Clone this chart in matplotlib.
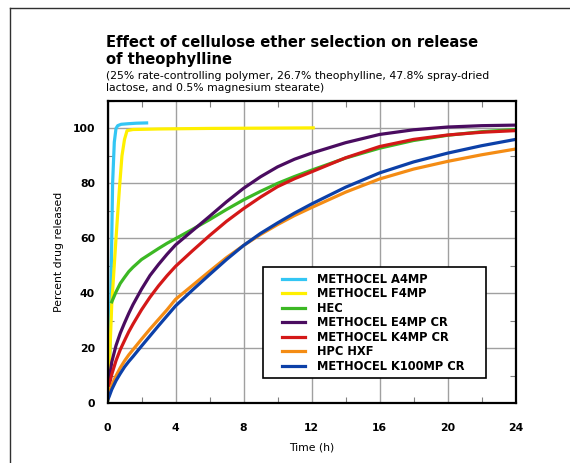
import matplotlib
matplotlib.use("Agg")
import matplotlib.pyplot as plt
from matplotlib.lines import Line2D
from matplotlib.patches import Rectangle
from matplotlib.ticker import MultipleLocator

plt.rcParams['font.family'] = ['DejaVu Sans']

# release profiles (time in h, percent released)
t_a4mp = [0, 0.15, 0.2, 0.3, 0.4, 0.5, 0.6, 0.8, 1.2, 1.7, 2.3]
v_a4mp = [0, 20, 40, 80, 95, 100, 101, 101.5, 101.7, 101.9, 102]

t_f4mp = [0, 0.1, 0.25, 0.5, 0.7, 0.85, 1.0, 1.15, 1.5, 3, 6, 9, 12.1]
v_f4mp = [0, 12, 36, 60, 78, 90, 96, 99.2, 99.6, 99.8, 100, 100.1, 100.2]

t_hec = [0.25, 0.5, 0.75, 1, 1.25, 1.5, 2, 2.5, 3, 3.5, 4, 5, 6, 7, 8, 9, 10,
         11, 12, 14, 16, 18, 20, 22, 24]
v_hec = [36.9, 40.5, 43.6, 45.8, 47.9, 49.5, 52.3, 54.3, 56.3, 58.2, 59.9, 63.3, 66.8,
         70.5, 74, 77.1, 80, 82.5, 84.8, 89.2, 92.8, 95.6, 97.5, 98.8, 99.6]

t_e4mp = [0.1, 0.25, 0.5, 0.75, 1, 1.25, 1.5, 2, 2.5, 3, 3.5, 4, 5, 6, 7, 8, 9, 10,
          11, 12, 14, 16, 18, 20, 22, 24]
v_e4mp = [8.5, 15, 21, 25.5, 29.2, 32.7, 35.9, 41.5, 46.5, 50.5, 54.2, 57.6, 62.8, 68,
          73.3, 78.2, 82.4, 86, 88.8, 91, 94.8, 97.8, 99.5, 100.5, 101, 101.2]

t_k4mp = [0.1, 0.25, 0.5, 0.75, 1, 1.25, 1.5, 2, 2.5, 3, 3.5, 4, 5, 6, 7, 8, 9, 10,
          11, 12, 14, 16, 18, 20, 22, 24]
v_k4mp = [6.5, 10.5, 15.5, 19.5, 22.8, 26, 28.8, 34, 38.6, 42.7, 46.4, 49.8, 55.5, 61,
          66.2, 70.8, 75, 78.8, 81.7, 84.2, 89.3, 93.4, 96, 97.6, 98.6, 99.2]

t_hpc = [0, 0.1, 0.25, 0.5, 0.75, 1, 1.25, 1.5, 2, 2.5, 3, 3.5, 4, 5, 6, 7, 8, 9, 10,
         11, 12, 14, 16, 18, 20, 22, 24]
v_hpc = [1, 3.5, 6.5, 10, 12.9, 15.4, 17.6, 19.5, 23.3, 27, 30.5, 34, 37.8, 42.9, 48,
         53, 57.4, 61.4, 65, 68.3, 71.2, 76.8, 81.6, 85.2, 88, 90.4, 92.5]

t_k100 = [0, 0.1, 0.25, 0.5, 0.75, 1, 1.25, 1.5, 2, 2.5, 3, 3.5, 4, 5, 6, 7, 8, 9, 10,
          11, 12, 14, 16, 18, 20, 22, 24]
v_k100 = [1, 2.5, 5, 8.2, 10.8, 13.2, 15.2, 17, 20.8, 24.5, 28.2, 31.8, 35.4, 41.2, 46.8,
          52.3, 57.4, 61.8, 65.6, 69.2, 72.5, 78.6, 83.8, 87.8, 91, 93.7, 96]

labels = ['METHOCEL A4MP', 'METHOCEL F4MP', 'HEC', 'METHOCEL E4MP CR',
          'METHOCEL K4MP CR', 'HPC HXF', 'METHOCEL K100MP CR']
colors = ['#33c6f4', '#fff000', '#3cb824', '#4a0c60', '#d41818', '#f48c14', '#0c40a8']
series = [(t_a4mp, v_a4mp), (t_f4mp, v_f4mp), (t_hec, v_hec), (t_e4mp, v_e4mp),
          (t_k4mp, v_k4mp), (t_hpc, v_hpc), (t_k100, v_k100)]

fig = plt.figure(figsize=(5.70, 4.63), dpi=100)
ax = fig.add_axes([0.1886, 0.129, 0.7158, 0.653])

for (t, v), c, lab in zip(series, colors, labels):
    ax.plot(t, v, color=c, lw=2.3, label=lab, solid_joinstyle='round')

ax.set_xlim(0, 24)
ax.set_ylim(0, 110)
ax.xaxis.set_major_locator(MultipleLocator(4))
ax.xaxis.set_minor_locator(MultipleLocator(2))
ax.yaxis.set_major_locator(MultipleLocator(20))
ax.yaxis.set_minor_locator(MultipleLocator(10))
ax.grid(True, which='major', color='#a0a0a0', lw=1.0)
ax.set_axisbelow(True)
ax.tick_params(which='both', direction='in', top=True, right=True, labelsize=7.8)
ax.tick_params(which='major', length=0)
ax.tick_params(which='minor', length=4, width=0.8, color='#808080')
ax.tick_params(axis='x', pad=14)
ax.tick_params(axis='y', pad=9)
for lb in ax.get_xticklabels() + ax.get_yticklabels():
    lb.set_fontweight('bold')
for sp in ax.spines.values():
    sp.set_linewidth(1.6)

ax.set_xlabel('Time (h)', fontsize=7.8, labelpad=7)
ax.set_ylabel('Percent drug released', fontsize=7.8, labelpad=6)

# legend box drawn separately so the padding matches the original
box = Rectangle((0.381, 0.0836), 0.547, 0.367, transform=ax.transAxes,
                facecolor='white', edgecolor='black', lw=1.2, zorder=4)
ax.add_patch(box)
leg = ax.legend(loc='upper left', bbox_to_anchor=(0.4277, 0.432), frameon=False,
                fontsize=8.3, handlelength=2.0, handletextpad=1.0,
                labelspacing=0.13, borderpad=0, borderaxespad=0)
leg.set_zorder(5)
for txt in leg.get_texts():
    txt.set_fontweight('bold')

H = 463.0
fig.text(0.186, 1 - 47 / H, 'Effect of cellulose ether selection on release',
         fontsize=10.6, fontweight='bold', va='baseline', ha='left')
fig.text(0.186, 1 - 64 / H, 'of theophylline',
         fontsize=10.6, fontweight='bold', va='baseline', ha='left')
fig.text(0.186, 1 - 79 / H,
         '(25% rate-controlling polymer, 26.7% theophylline, 47.8% spray-dried',
         fontsize=7.8, va='baseline', ha='left')
fig.text(0.186, 1 - 91 / H, 'lactose, and 0.5% magnesium stearate)',
         fontsize=7.8, va='baseline', ha='left')

# page frame (left and top edges)
fig.add_artist(Line2D([10 / 570, 10 / 570], [0, 1 - 8 / H], color='#303030', lw=1.0))
fig.add_artist(Line2D([10 / 570, 1], [1 - 8 / H, 1 - 8 / H], color='#303030', lw=1.0))

fig.savefig('out.png', dpi=100)
